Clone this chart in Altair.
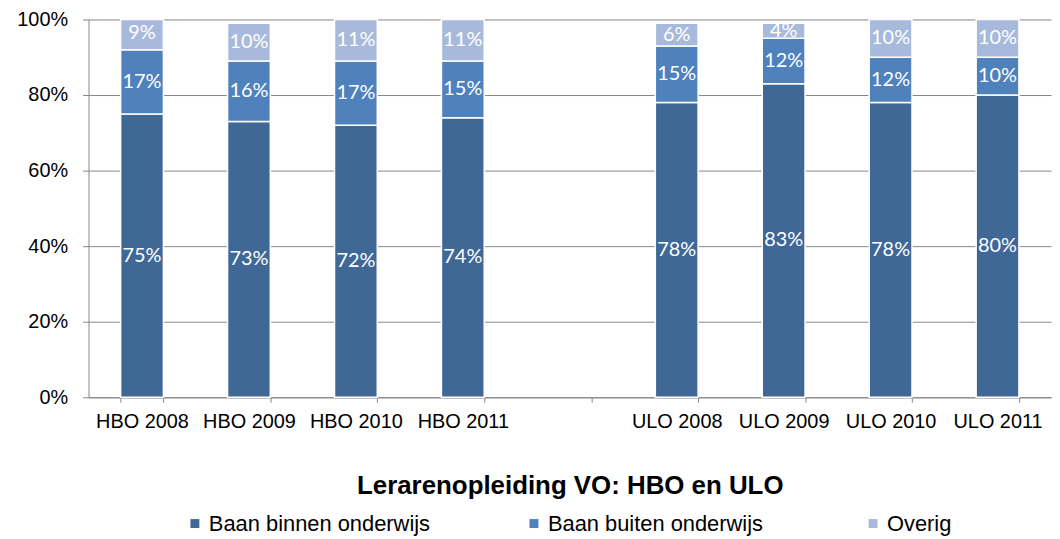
import altair as alt
import pandas as pd

categories = ["HBO 2008", "HBO 2009", "HBO 2010", "HBO 2011", " ",
              "ULO 2008", "ULO 2009", "ULO 2010", "ULO 2011"]
data_cats = ["HBO 2008", "HBO 2009", "HBO 2010", "HBO 2011",
             "ULO 2008", "ULO 2009", "ULO 2010", "ULO 2011"]
binnen = [75, 73, 72, 74, 78, 83, 78, 80]
buiten = [17, 16, 17, 15, 15, 12, 12, 10]
overig = [9, 10, 11, 11, 6, 4, 10, 10]
series = ["Baan binnen onderwijs", "Baan buiten onderwijs", "Overig"]
colors = ["#3F6897", "#4F81BD", "#A8BADC"]

rows = []
for i, c in enumerate(data_cats):
    for k, (s, vals) in enumerate(zip(series, [binnen, buiten, overig])):
        rows.append({"cat": c, "series": s, "order": k, "value": vals[i]})
df = pd.DataFrame(rows)

base = alt.Chart(df).transform_stack(
    stack="value", groupby=["cat"], as_=["y0", "y1"],
    sort=[alt.SortField("order", order="ascending")]
).transform_calculate(
    mid="(datum.y0 + datum.y1) / 2",
    label="datum.value + '%'"
)

xenc = alt.X("cat:N", scale=alt.Scale(domain=categories, paddingInner=0.6, paddingOuter=0.3),
             sort=categories,
             axis=alt.Axis(title="Lerarenopleiding VO: HBO en ULO", labelAngle=0,
                           labelFont="Liberation Sans", labelFontSize=20, labelColor="#000000",
                           labelPadding=9, tickBand="extent", tickColor="#868686",
                           tickSize=5, domainColor="#868686",
                           titleFont="Liberation Sans", titleFontSize=26, titleFontWeight="bold",
                           titleColor="#000000", titlePadding=42, grid=False))

yscale = alt.Scale(domain=[0, 100], clamp=True, nice=False)

bars = base.mark_bar(stroke="white", strokeWidth=1.5).encode(
    x=xenc,
    y=alt.Y("y0:Q", scale=yscale,
            axis=alt.Axis(title=None, values=[0, 20, 40, 60, 80, 100],
                          labelExpr="datum.value + '%'",
                          labelFont="Liberation Sans", labelFontSize=20, labelColor="#000000",
                          labelPadding=15, tickSize=6, tickColor="#868686",
                          domainColor="#868686", gridColor="#868686", grid=True)),
    y2="y1:Q",
    color=alt.Color("series:N", scale=alt.Scale(domain=series, range=colors),
                    legend=alt.Legend(title=None, orient="none", legendX=96, legendY=496,
                                      direction="horizontal", columns=3, gridAlign="all",
                                      columnPadding=93, symbolType="square", symbolSize=100,
                                      symbolStrokeColor="white", symbolStrokeWidth=1,
                                      labelFont="Liberation Sans", labelFontSize=22,
                                      labelColor="#000000", labelOffset=3, labelLimit=400)),
    order=alt.Order("order:Q")
)

texts = base.mark_text(color="white", font="Lato", fontSize=20, baseline="middle").encode(
    x=alt.X("cat:N", scale=alt.Scale(domain=categories), sort=categories),
    y=alt.Y("mid:Q", scale=yscale),
    text="label:N"
)

chart = alt.layer(bars, texts).properties(
    width=968, height=380,
    autosize=alt.AutoSizeParams(type="none"),
    padding={"left": 81, "top": 10, "right": 1, "bottom": 140}
).configure_view(stroke=None).configure_axisY(domain=True)

chart.save("out.html", embed_options={"renderer": "svg", "actions": False})
